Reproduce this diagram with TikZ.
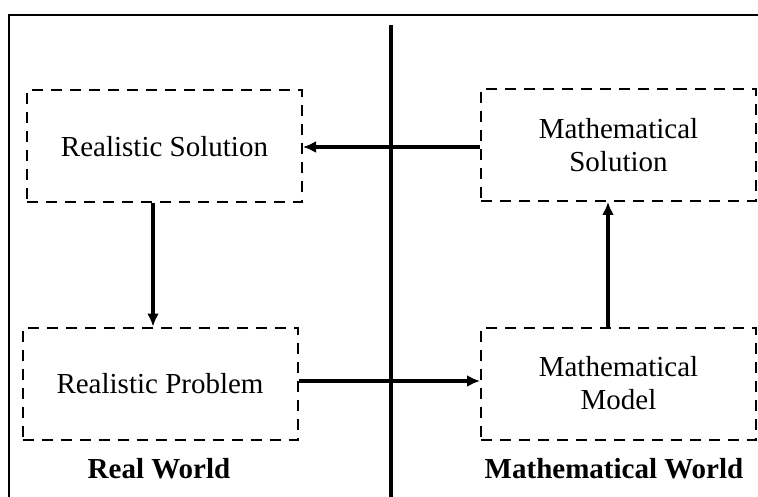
\documentclass[tikz,border=0pt]{standalone}
\usepackage{fontspec}
\setmainfont{Liberation Serif}
\usetikzlibrary{arrows.meta}

\begin{document}
\begin{tikzpicture}[x=1pt,y=-1pt,
  box/.style={draw,dashed,dash pattern=on 11pt off 8pt,line width=2pt,minimum width=275pt,minimum height=112pt,align=center,inner sep=0pt,font=\fontsize{29}{33}\selectfont},
  world/.style={font=\fontsize{29}{33}\selectfont\bfseries}]
\useasboundingbox (0,0) rectangle (758,497);

\draw[line width=2.6pt] (9,497) -- (9,15) -- (758,15);
\draw[line width=3.6pt] (391,25) -- (391,497);

\node[box] (RS) at (164.5,146.5) {Realistic Solution};
\node[box] (MS) at (618.5,145) {Mathematical\\Solution};
\node[box] (RP) at (160,383.5) {Realistic Problem};
\node[box] (MM) at (618.5,383.5) {Mathematical\\Model};

\node[world] (RW) at (159,469) {Real World};
\node[world] (MW) at (614,469) {Mathematical World};

\path[->, >={Latex[length=13pt,width=12pt]},line width=3.4pt] (MS.west |- 0,147) edge (RS.east |- 0,147);
\path[->, >={Latex[length=13pt,width=12pt]},line width=3.4pt] (RP.east |- 0,381) edge (MM.west |- 0,381);
\path[->, >={Latex[length=13pt,width=12pt]},line width=3.4pt] (RS.south -| 153,0) edge (RP.north -| 153,0);
\path[->, >={Latex[length=13pt,width=12pt]},line width=3.4pt] (MM.north -| 608,0) edge (MS.south -| 608,0);

\end{tikzpicture}
\end{document}
